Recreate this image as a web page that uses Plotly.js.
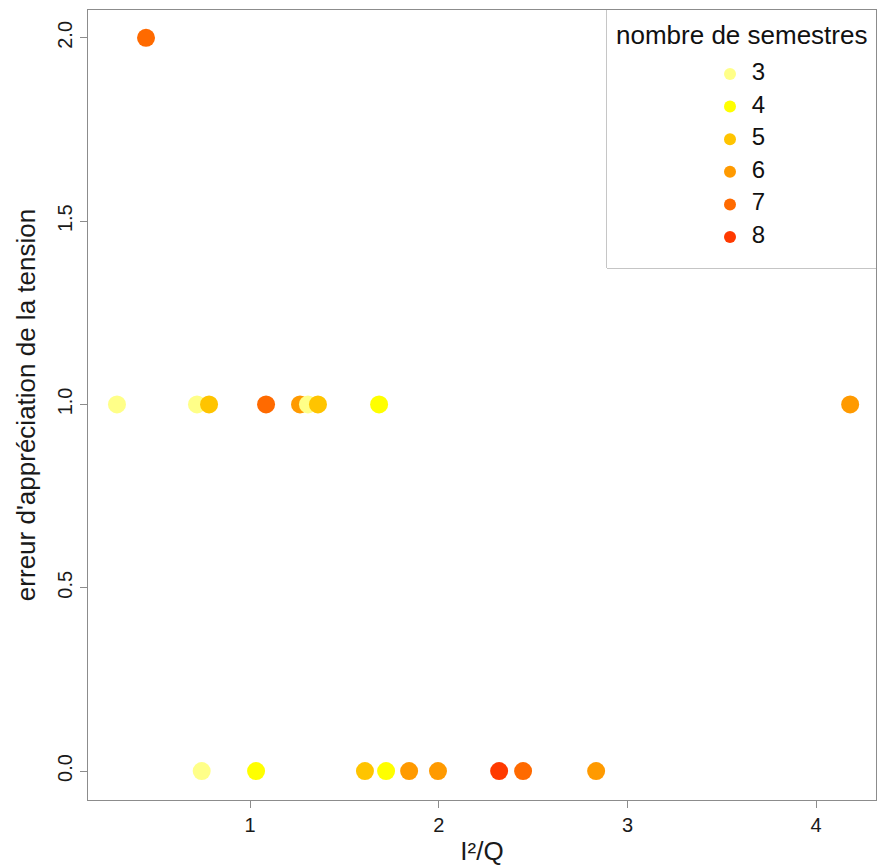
<!DOCTYPE html>
<html>
<head>
<meta charset="utf-8">
<script src="https://cdn.plot.ly/plotly-3.0.1.min.js"></script>
<style>html,body{margin:0;padding:0;background:#fff;}</style>
</head>
<body>
<div id="chart" style="width:877px;height:866px;"></div>
<script>
// Data
const ratioI2Q   = [0.295, 0.719, 0.783, 1.085, 1.265, 1.307, 1.360, 1.684, 4.18, 0.449,
                    0.744, 1.032, 1.609, 1.721, 1.843, 1.996, 2.320, 2.447, 2.834];
const erreurTension = [1, 1, 1, 1, 1, 1, 1, 1, 1, 2,
                    0, 0, 0, 0, 0, 0, 0, 0, 0];
const semestres  = [3, 3, 5, 7, 6, 3, 5, 4, 6, 7,
                    3, 4, 5, 4, 6, 6, 8, 7, 6];
const categories = [3, 4, 5, 6, 7, 8];
const catColors  = ["#FFFF88", "#FFFF00", "#FFC400", "#FF9A00", "#FF6A00", "#FF3A00"];

const colorOf = s => catColors[categories.indexOf(s)];
const FONT = "Liberation Sans, Arial, sans-serif";
const frameColor = "#8c8c8c";

const mainTrace = {
  x: ratioI2Q, y: erreurTension, type: "scatter", mode: "markers",
  marker: {size: 18, color: semestres.map(colorOf), line: {width: 0}},
  showlegend: false, hoverinfo: "x+y", xaxis: "x", yaxis: "y"
};

const legendTrace = {
  x: categories.map(() => 0), y: categories.map((c, i) => i),
  type: "scatter", mode: "markers+text",
  text: categories.map(c => "\u00a0\u00a0" + c), textposition: "middle right",
  textfont: {family: FONT, size: 24, color: "#111"},
  marker: {size: 12, color: catColors},
  showlegend: false, hoverinfo: "skip", xaxis: "x2", yaxis: "y2", cliponaxis: false
};

const legX0 = (607 - 88) / 788, legY0 = (800 - 268) / 790;

const layout = {
  width: 877, height: 866,
  margin: {l: 88, r: 1, t: 10, b: 66, pad: 0},
  paper_bgcolor: "#fff", plot_bgcolor: "#fff",
  font: {family: FONT, color: "#1a1a1a"},
  showlegend: false,
  xaxis: {
    range: [0.1415, 4.317], tickvals: [1, 2, 3, 4], ticktext: ["1", "2", "3", "4"],
    showgrid: false, zeroline: false,
    showline: true, mirror: true, linecolor: frameColor, linewidth: 1,
    ticks: "outside", ticklen: 7, tickcolor: frameColor, tickwidth: 1,
    tickfont: {family: FONT, size: 20, color: "#1a1a1a"},
    title: {text: "I²/Q", font: {family: FONT, size: 26, color: "#1a1a1a"}, standoff: 10}
  },
  yaxis: {
    range: [-0.079, 2.076], tickvals: [0, 0.5, 1, 1.5, 2], ticktext: ["0.0", "0.5", "1.0", "1.5", "2.0"],
    showgrid: false, zeroline: false,
    showline: true, mirror: true, linecolor: frameColor, linewidth: 1,
    ticks: "outside", ticklen: 7, tickcolor: frameColor, tickwidth: 1, tickangle: -90,
    tickfont: {family: FONT, size: 20, color: "#1a1a1a"},
    title: {text: "erreur d'appréciation de la tension", font: {family: FONT, size: 26, color: "#1a1a1a"}, standoff: 10}
  },
  xaxis2: {domain: [legX0, 1], anchor: "y2", range: [-123, 146], visible: false, fixedrange: true},
  yaxis2: {domain: [legY0, 1], anchor: "x2", range: [5.951, -1.963], autorange: false, visible: false, fixedrange: true},
  shapes: [{
    type: "rect", xref: "paper", yref: "paper", x0: legX0, x1: 1, y0: legY0, y1: 1,
    line: {color: frameColor, width: 1}, fillcolor: "#fff", layer: "below"
  }],
  annotations: [{
    text: "nombre de semestres", xref: "paper", yref: "paper",
    x: (741 - 88) / 788, y: (800 - 35) / 790, xanchor: "center", yanchor: "middle",
    showarrow: false, font: {family: FONT, size: 26, color: "#111"}
  }]
};

Plotly.newPlot("chart", [mainTrace, legendTrace], layout, {displayModeBar: false, staticPlot: true});
</script>
</body>
</html>
